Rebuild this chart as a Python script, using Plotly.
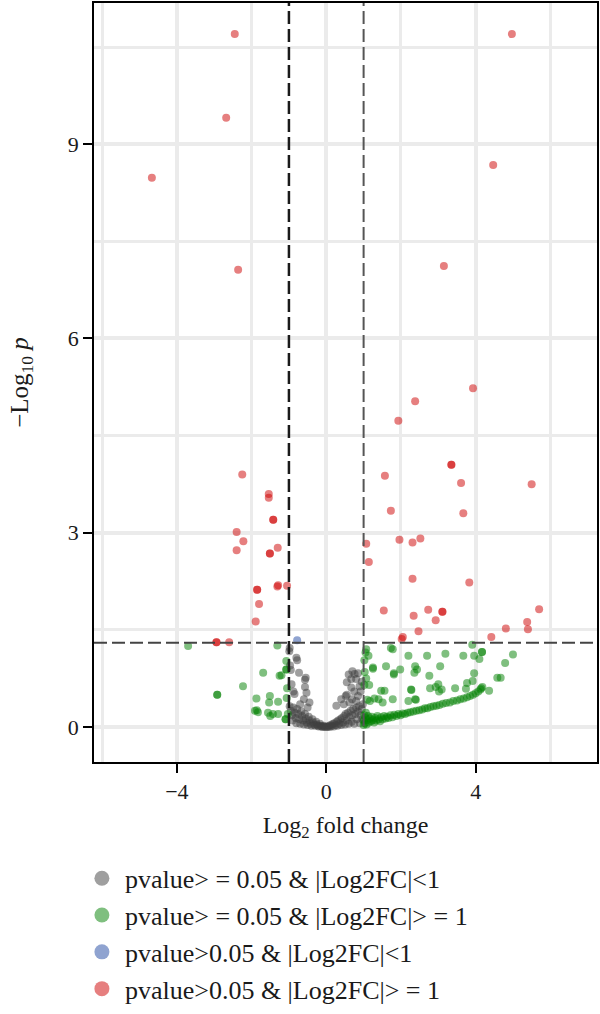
import plotly.graph_objects as go

# ---------------- data ----------------
# pvalue>=0.05 & |Log2FC|<1  (grey)
grey_x = [-0.99, -0.98, -0.97, -0.95, -0.80, -0.78, -0.73, -0.57, -0.55, -0.57, -0.53, -0.85, -0.88, -0.45, -0.60, -0.93, -0.70, -0.50,
          -0.98, -0.95, -0.92, -0.90, -0.88, -0.85, -0.82, -0.80, -0.78, -0.75, -0.72, -0.70, -0.67, -0.65, -0.62, -0.60, -0.57, -0.55,
          -0.52, -0.50, -0.47, -0.45, -0.42, -0.40, -0.37, -0.35, -0.32, -0.30, -0.27, -0.25, -0.22, -0.20, -0.17, -0.15, -0.12, -0.10,
          -0.07, -0.05, -0.02,
          0.60, 0.70, 0.76, 0.85, 0.67, 0.55, 0.80, 0.67, 0.52, 0.55, 0.40, 0.69, 0.85, 0.89, 0.27, 0.95, 0.92, 0.75, 0.62, 0.80, 0.47,
          0.02, 0.05, 0.08, 0.10, 0.12, 0.15, 0.18, 0.20, 0.22, 0.25, 0.28, 0.30, 0.32, 0.35, 0.38, 0.40, 0.42, 0.45, 0.48, 0.50,
          0.52, 0.55, 0.58, 0.60, 0.62, 0.65, 0.68, 0.70, 0.72, 0.75, 0.78, 0.80, 0.82, 0.85, 0.88, 0.90, 0.92, 0.95, 0.97, 0.98]
grey_y = [1.17, 1.22, 0.95, 0.88, 1.07, 1.03, 0.84, 0.73, 0.76, 0.62, 0.53, 0.51, 0.55, 0.38, 0.43, 0.66, 0.35, 0.30,
          0.32, 0.25, 0.18, 0.10, 0.30, 0.22, 0.14, 0.06, 0.28, 0.20, 0.12, 0.05, 0.24, 0.17, 0.10, 0.04, 0.20, 0.13,
          0.07, 0.03, 0.16, 0.10, 0.05, 0.02, 0.12, 0.07, 0.04, 0.02, 0.08, 0.04, 0.02, 0.01, 0.05, 0.02, 0.01, 0.00,
          0.02, 0.01, 0.00,
          0.81, 0.86, 0.82, 0.83, 0.74, 0.69, 0.74, 0.61, 0.48, 0.50, 0.43, 0.43, 0.48, 0.63, 0.33, 0.70, 0.55, 0.55, 0.38, 0.40, 0.35,
          0.00, 0.01, 0.02, 0.00, 0.03, 0.02, 0.05, 0.01, 0.06, 0.03, 0.08, 0.02, 0.10, 0.05, 0.12, 0.03, 0.14, 0.07, 0.17, 0.04,
          0.20, 0.10, 0.22, 0.05, 0.15, 0.25, 0.08, 0.18, 0.28, 0.05, 0.20, 0.30, 0.12, 0.24, 0.32, 0.06, 0.18, 0.28, 0.12, 0.35]

# pvalue>=0.05 & |Log2FC|>=1  (green)
green_x = [-3.70, -2.92, -2.92, -2.23, -1.69, -1.31, -1.25, -1.20, -1.07, -1.07, -1.07, -1.87, -1.51, -1.53, -1.29, -1.91, -1.83,
           -1.56, -1.43, -1.29, -1.09, -1.09, -1.06, -1.50, -1.86, -1.05, -1.03,
           1.07, 1.13, 1.02, 1.05, 1.25, 1.25, 1.78, 1.60, 1.81, 1.81, 1.98, 2.20, 2.38, 2.43, 2.36, 2.70, 2.76, 3.19, 3.05, 3.67,
           3.96, 4.17, 4.17, 3.91, 3.96, 3.92, 5.00, 4.79, 4.67, 4.36, 1.07, 1.02, 1.15, 1.56, 1.40, 1.10, 1.17, 2.27, 2.20, 2.40,
           2.78, 2.93, 3.02, 3.00, 3.45, 3.74, 3.77, 3.09, 1.47, 1.29, 1.51, 1.78, 2.28, 2.38, 4.58, 1.73, 1.03, 4.10,
           1.00, 1.01, 1.02, 1.03, 1.05, 1.06, 1.08, 1.10, 1.12, 1.14, 1.17, 1.20, 1.22, 1.25, 1.28, 1.31, 1.34, 1.37, 1.40, 1.44,
           1.47, 1.51, 1.55, 1.59, 1.63, 1.67, 1.72, 1.77, 1.82, 1.88, 1.93, 1.99, 2.05, 2.11, 2.18, 2.25, 2.33, 2.41, 2.49, 2.57,
           2.64, 2.71, 2.79, 2.87, 2.95, 3.03, 3.12, 3.21, 3.31, 3.40, 3.50, 3.59, 3.68, 3.77, 3.85, 3.93, 4.00, 4.07, 4.13, 4.18, 4.15]
green_y = [1.25, 0.50, 0.50, 0.63, 0.84, 1.26, 0.79, 0.80, 1.02, 0.89, 0.89, 0.44, 0.48, 0.38, 0.39, 0.25, 0.23,
           0.22, 0.20, 0.20, 0.12, 0.12, 0.45, 0.17, 0.26, 0.60, 0.20,
           1.20, 1.10, 1.03, 1.15, 0.92, 0.90, 1.20, 0.94, 0.81, 0.83, 0.89, 1.10, 0.94, 0.89, 0.84, 1.10, 0.79, 1.13, 0.94, 1.10,
           1.10, 1.16, 1.16, 1.27, 0.83, 0.71, 1.12, 0.99, 0.76, 0.56, 0.75, 0.65, 0.65, 0.56, 0.43, 0.42, 0.40, 0.58, 0.40, 0.42,
           0.60, 0.62, 0.55, 0.66, 0.60, 0.59, 0.68, 0.58, 0.56, 0.44, 0.38, 0.43, 0.57, 0.43, 0.76, 1.22, 0.85, 1.05,
           0.03, 0.10, 0.18, 0.06, 0.14, 0.22, 0.04, 0.11, 0.17, 0.07, 0.13, 0.09, 0.16, 0.11, 0.07, 0.14, 0.10, 0.17, 0.12, 0.09,
           0.15, 0.12, 0.17, 0.13, 0.16, 0.14, 0.18, 0.15, 0.19, 0.17, 0.20, 0.18, 0.21, 0.20, 0.22, 0.23, 0.24, 0.25, 0.26, 0.27,
           0.29, 0.29, 0.31, 0.32, 0.33, 0.34, 0.36, 0.37, 0.38, 0.40, 0.41, 0.43, 0.44, 0.46, 0.48, 0.50, 0.52, 0.55, 0.58, 0.62, 0.60]

# pvalue<0.05 & |Log2FC|<1  (blue)
blue_x = [-0.78]
blue_y = [1.34]

# pvalue<0.05 & |Log2FC|>=1  (red)
red_x = [-2.45, -2.68, -4.67, -2.36, -2.25, -1.54, -1.54, -1.42, -1.42, -2.40, -2.22, -2.40, -1.30, -1.51, -1.51, -1.85, -1.85,
         -1.31, -1.29, -1.05, -1.80, -1.89, -2.94, -2.94, -2.60,
         4.97, 4.47, 3.15, 3.93, 2.38, 1.93, 3.35, 3.35, 1.57, 3.61, 5.50, 1.73, 3.67, 1.07, 1.96, 2.31, 2.52, 1.14, 2.31, 3.83,
         1.54, 2.34, 2.73, 3.11, 3.11, 2.93, 2.47, 2.05, 2.02, 4.42, 4.81, 5.38, 5.40, 5.70]
red_y = [10.70, 9.41, 8.48, 7.06, 3.90, 3.60, 3.54, 3.20, 3.20, 3.01, 2.87, 2.73, 2.77, 2.68, 2.68, 2.12, 2.12,
         2.17, 2.19, 2.18, 1.90, 1.63, 1.31, 1.31, 1.31,
         10.70, 8.68, 7.12, 5.23, 5.03, 4.73, 4.05, 4.05, 3.88, 3.77, 3.75, 3.34, 3.30, 2.83, 2.89, 2.85, 2.91, 2.55, 2.29, 2.23,
         1.80, 1.72, 1.81, 1.78, 1.78, 1.65, 1.48, 1.39, 1.36, 1.39, 1.52, 1.62, 1.51, 1.82]

group_names = ["pvalue> = 0.05 & |Log2FC|<1", "pvalue> = 0.05 & |Log2FC|> = 1",
               "pvalue>0.05 & |Log2FC|<1", "pvalue>0.05 & |Log2FC|> = 1"]
group_colors = ["rgb(64,64,64)", "rgb(0,128,0)", "rgb(31,71,161)", "rgb(205,0,0)"]

fc_cut = 1
p_cut = 1.30103  # -log10(0.05)

# ---------------- figure ----------------
fig = go.Figure()
groups = [(grey_x, grey_y), (green_x, green_y), (blue_x, blue_y), (red_x, red_y)]
for (gx, gy), name, col in zip(groups, group_names, group_colors):
    fig.add_trace(go.Scatter(x=gx, y=gy, mode="markers", name=name, showlegend=False,
                             marker=dict(color=col, size=8, opacity=0.5, line=dict(width=0)),
                             hoverinfo="x+y"))
# legend entries (bigger keys, like the reference)
for name, col in zip(group_names, group_colors):
    fig.add_trace(go.Scatter(x=[None], y=[None], mode="markers", name=name,
                             marker=dict(color=col, size=15, opacity=0.5, line=dict(width=0))))

dash = "13px,5px"
fig.add_shape(type="line", xref="x", yref="paper", x0=-fc_cut, x1=-fc_cut, y0=0, y1=1,
              line=dict(color="#1a1a1a", width=2.5, dash=dash), layer="above")
fig.add_shape(type="line", xref="x", yref="paper", x0=fc_cut, x1=fc_cut, y0=0, y1=1,
              line=dict(color="#555555", width=2, dash=dash), layer="above")
fig.add_shape(type="line", xref="paper", yref="y", x0=0, x1=1, y0=p_cut, y1=p_cut,
              line=dict(color="#444444", width=2, dash=dash), layer="above")

axis_common = dict(showgrid=True, gridcolor="#ebebeb", gridwidth=3.5, zeroline=False,
                   showline=True, linecolor="black", linewidth=1.5, mirror=True,
                   ticks="outside", ticklen=9, tickwidth=1.5, tickcolor="black",
                   tickfont=dict(size=22, family="Liberation Serif", color="#1a1a1a"))

fig.update_xaxes(range=[-6.22, 7.25], tick0=0, dtick=4,
                 minor=dict(tick0=0, dtick=2, showgrid=True, gridcolor="#ebebeb", gridwidth=2.5, ticks=""),
                 title=dict(text="Log<sub>2</sub> fold change", font=dict(size=24), standoff=13),
                 **axis_common)
fig.update_yaxes(range=[-0.54, 11.18], tick0=0, dtick=3,
                 minor=dict(tick0=0, dtick=1.5, showgrid=True, gridcolor="#ebebeb", gridwidth=2.5, ticks=""),
                 title=dict(text="\u2212Log<sub>10</sub> <i>p</i>", font=dict(size=25), standoff=32),
                 **axis_common)

fig.update_layout(
    width=600, height=1014,
    margin=dict(l=94, r=2, t=1, b=252),
    plot_bgcolor="white", paper_bgcolor="white",
    font=dict(family="Liberation Serif", color="#1a1a1a", size=22),
    legend=dict(orientation="v", x=-0.030, xanchor="left", y=-0.3305, yanchor="bottom",
                font=dict(size=26, family="Liberation Serif"), bgcolor="rgba(0,0,0,0)",
                itemwidth=36, tracegroupgap=0),
)

fig.write_html("out.html")
